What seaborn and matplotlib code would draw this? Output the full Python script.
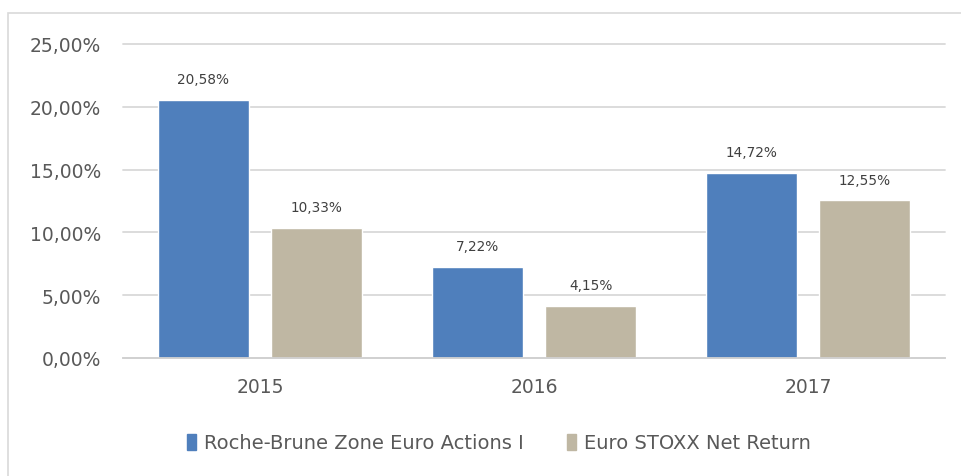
#!/usr/bin/env python3

import pandas as pd
import matplotlib
matplotlib.use("Agg")
import matplotlib.pyplot as plt
import seaborn as sns
from matplotlib.patches import Rectangle

# chart values
years = ["2015", "2016", "2017"]
fund_name = "Roche-Brune Zone Euro Actions I"
index_name = "Euro STOXX Net Return"
fund_returns = [20.58, 7.22, 14.72]
index_returns = [10.33, 4.15, 12.55]
y_ticks = [0, 5, 10, 15, 20, 25]

colors = {fund_name: "#4F7FBC", index_name: "#BFB7A3"}


def fr_pct(v):
    return f"{v:.2f}%".replace(".", ",")


df = pd.DataFrame({
    "year": years * 2,
    "series": [fund_name] * len(years) + [index_name] * len(years),
    "value": fund_returns + index_returns,
})

sns.set_theme(style="white")
plt.rcParams["font.family"] = ["DejaVu Sans"]

fig = plt.figure(figsize=(9.61, 4.77), dpi=100)
ax = fig.add_axes([123 / 961, 1 - 359 / 477, (945 - 123) / 961, (359 - 45) / 477])

# light frame around the chart area
fig.patches.append(Rectangle((8 / 961, -0.2), 1.2, 1.2 - 14 / 477,
                             transform=fig.transFigure, fill=False,
                             edgecolor="#D9D9D9", linewidth=1.2))

sns.barplot(data=df, x="year", y="value", hue="series", order=years,
            hue_order=[fund_name, index_name], palette=colors,
            width=0.83, gap=0.2, ax=ax, legend=False, errorbar=None,
            saturation=1)

ax.set_ylim(0, 25)
ax.set_yticks(y_ticks)
ax.set_yticklabels([fr_pct(t) for t in y_ticks])
ax.set_xlabel("")
ax.set_ylabel("")
ax.grid(axis="y", color="#D9D9D9", linewidth=1.3)
ax.set_axisbelow(True)
for line in ax.get_ygridlines():
    line.set_clip_on(False)
for side in ["top", "right", "left"]:
    ax.spines[side].set_visible(False)
ax.spines["bottom"].set_color("#D0D0D0")
ax.spines["bottom"].set_linewidth(1.3)
ax.tick_params(axis="y", length=0, pad=16, labelsize=13.5, labelcolor="#595959")
ax.tick_params(axis="x", length=0, pad=14, labelsize=13.5, labelcolor="#595959")

# data labels above each bar
for cont in ax.containers:
    for bar in cont:
        h = bar.get_height()
        ax.annotate(fr_pct(h), (bar.get_x() + bar.get_width() / 2, h),
                    xytext=(0, 15), textcoords="offset points",
                    ha="center", va="center", fontsize=9.8, color="#404040")

handles = [Rectangle((0, 0), 1, 1, color=colors[fund_name]),
           Rectangle((0, 0), 1, 1, color=colors[index_name])]
fig.legend(handles, [fund_name, index_name], loc="center",
           bbox_to_anchor=(0.519, 1 - 444 / 477), ncol=2, frameon=False,
           fontsize=14, handlelength=0.5, handleheight=0.85,
           handletextpad=0.4, columnspacing=2.2, labelcolor="#595959")

fig.savefig("out.png", dpi=100)
plt.close(fig)
